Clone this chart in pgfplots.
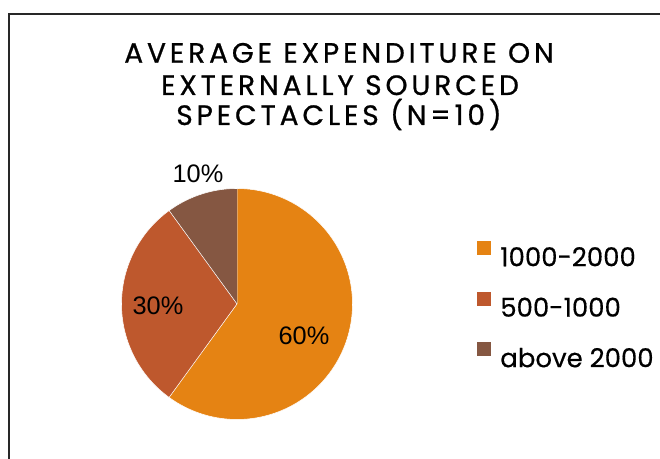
\documentclass[border=0pt]{standalone}
\usepackage{fontspec}
\usepackage{pgfplots}
\usepackage{pgfplotstable}
\pgfplotsset{compat=1.18}
\newfontfamily\titlefont[LetterSpace=14, FakeBold=0.8]{Poppins}
\newfontfamily\legfont[FakeBold=0.4]{Poppins}
\newfontfamily\lblfont{Liberation Sans}
\definecolor{cA}{RGB}{229,131,19}
\definecolor{cB}{RGB}{190,88,45}
\definecolor{cC}{RGB}{133,87,66}
\definecolor{frame}{RGB}{40,40,40}

\pgfplotstableread[col sep=comma]{
label,value
1000-2000,60
500-1000,30
above 2000,10
}\piedata

\begin{document}
\begin{tikzpicture}
\useasboundingbox (0,0) rectangle (495pt,344.25pt);
\clip (0,0) rectangle (495pt,344.25pt);
\pgfplotstablegetelem{0}{value}\of\piedata \edef\vA{\pgfplotsretval}
\pgfplotstablegetelem{1}{value}\of\piedata \edef\vB{\pgfplotsretval}
\pgfplotstablegetelem{2}{value}\of\piedata \edef\vC{\pgfplotsretval}
\pgfmathsetmacro\aA{90}
\pgfmathsetmacro\aB{\aA-3.6*\vA}
\pgfmathsetmacro\aC{\aB-3.6*\vB}
\pgfmathsetmacro\aD{\aC-3.6*\vC}
\begin{axis}[
  at={(0,0)}, anchor=south west,
  scale only axis, width=495pt, height=344.25pt,
  xmin=0, xmax=660, ymin=0, ymax=459,
  hide axis, clip=false,
  legend cell align=left,
  legend style={draw=none, fill=none, inner sep=0pt, at={(axis cs:477,218)}, anchor=north west,
    font=\legfont\fontsize{19.5}{22}\selectfont, row sep=19.1pt,
    nodes={inner sep=0pt, text height=13.5pt, text depth=0pt}},
  /tikz/every odd column/.append style={column sep=6.75pt},
  legend image code/.code={\path[#1, draw=none] (0pt,1.5pt) rectangle (10.5pt,12pt);},
]
\addplot[fill=cA, draw=white, line width=0.4pt, variable=\t, domain=0:1.1, samples=111]
  ({237+(\t<=1.0001)*115.5*cos(\aB+(\aA-\aB)*min(\t,1))},
   {155+(\t<=1.0001)*115.5*sin(\aB+(\aA-\aB)*min(\t,1))});
\addlegendentry{1000-2000}
\addplot[fill=cB, draw=white, line width=0.4pt, variable=\t, domain=0:1.1, samples=111]
  ({237+(\t<=1.0001)*115.5*cos(\aC+(\aB-\aC)*min(\t,1))},
   {155+(\t<=1.0001)*115.5*sin(\aC+(\aB-\aC)*min(\t,1))});
\addlegendentry{500-1000}
\addplot[fill=cC, draw=white, line width=0.4pt, variable=\t, domain=0:1.1, samples=111]
  ({237+(\t<=1.0001)*115.5*cos(\aD+(\aC-\aD)*min(\t,1))},
   {155+(\t<=1.0001)*115.5*sin(\aD+(\aC-\aD)*min(\t,1))});
\addlegendentry{above 2000}

\node[inner sep=0pt, font=\lblfont\fontsize{19}{22}\selectfont] at (axis cs:198,285) {10\%};
\node[inner sep=0pt, font=\lblfont\fontsize{19}{22}\selectfont] at (axis cs:158,153) {30\%};
\node[inner sep=0pt, font=\lblfont\fontsize{19}{22}\selectfont] at (axis cs:304,123) {60\%};

\node[inner sep=0pt, anchor=base, font=\titlefont\fontsize{21}{24}\selectfont] at (axis cs:339,396.3) {AVERAGE EXPENDITURE ON};
\node[inner sep=0pt, anchor=base, font=\titlefont\fontsize{21}{24}\selectfont] at (axis cs:340,364) {EXTERNALLY SOURCED};
\node[inner sep=0pt, anchor=base, font=\titlefont\fontsize{21}{24}\selectfont] at (axis cs:339,334) {SPECTACLES (N=10)};
\end{axis}
\draw[frame, line width=1.5pt] (6.75pt,-5pt) -- (6.75pt,333.75pt) -- (505pt,333.75pt);
\end{tikzpicture}
\end{document}
